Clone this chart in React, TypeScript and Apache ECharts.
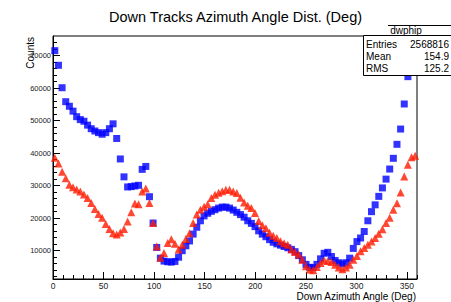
import React, { useEffect, useRef } from "react";
import * as echarts from "echarts";

const TITLE = "Down Tracks Azimuth Angle Dist. (Deg)";
const X_TITLE = "Down Azimuth Angle (Deg)";
const Y_TITLE = "Counts";
const STATS_NAME = "dwphip";
const STATS_LABELS = ["Entries", "Mean", "RMS"];
const STATS_VALUES = ["2568816", "154.9", "125.2"];

const X_MIN = 0;
const X_MAX = 360;
const BIN_WIDTH = 3.6;
const Y_MIN = 1300;
const Y_MAX = 76000;

const X_MAJOR = [0, 50, 100, 150, 200, 250, 300, 350];
const X_MINOR = [10, 20, 30, 40, 60, 70, 80, 90, 110, 120, 130, 140, 160, 170, 180, 190, 210, 220, 230, 240, 260, 270, 280, 290, 310, 320, 330, 340, 360];
const Y_MAJOR = [10000, 20000, 30000, 40000, 50000, 60000, 70000];
const Y_MINOR = [2000, 4000, 6000, 8000, 12000, 14000, 16000, 18000, 22000, 24000, 26000, 28000, 32000, 34000, 36000, 38000, 42000, 44000, 46000, 48000, 52000, 54000, 56000, 58000, 62000, 64000, 66000, 68000, 72000, 74000];

const BLUE = [
  71500, 67000, 60100, 55800, 54400, 52900, 51200, 50300, 49800, 48600,
  47500, 46800, 46300, 45800, 46300, 47500, 49000, 44500, 38200, 32700,
  29600, 29700, 29900, 30100, 35000, 35900, 26600, 18500, 11000, 7700,
  6800, 6600, 6500, 6700, 8000, 10000, 11500, 13000, 15100, 17200,
  19200, 20700, 21500, 22100, 22600, 23100, 23400, 23400, 23100, 22500,
  21800, 21100, 20300, 19200, 18400, 17400, 16100, 15100, 14300, 13400,
  12600, 12100, 11700, 11300, 10900, 10400, 9700, 8500, 7200, 5800,
  4900, 4800, 5800, 7500, 9200, 9500, 8200, 7000, 6300, 5900,
  6300, 7700, 10700, 12800, 13900, 15900, 19200, 22000, 24100, 26700,
  29300, 32000, 35100, 38400, 42700, 47400, 55100, 63500, 69000, 73000,
];

const RED = [
  38600, 36800, 34300, 32300, 30300, 29500, 28800, 28200, 27300, 26200,
  24700, 22800, 21300, 20100, 18200, 16700, 15400, 15000, 15600, 16700,
  19000, 21800, 24500, 24300, 28200, 29100, 24700, 18500, 11300, 7800,
  9300, 12400, 13500, 12100, 10400, 11800, 13600, 15400, 18500, 21100,
  22600, 23500, 24300, 26200, 27200, 27800, 28300, 28700, 28700, 28200,
  27700, 26300, 24800, 23800, 23100, 21600, 19100, 17800, 16900, 15500,
  14600, 13900, 12900, 12300, 11800, 10400, 9600, 8800, 7200, 5200,
  4200, 4000, 5000, 6200, 7000, 6800, 6500, 5700, 4800, 4300,
  4800, 5700, 7200, 8400, 9800, 10800, 11800, 12800, 13900, 15200,
  16600, 18500, 20100, 22600, 24600, 27900, 32800, 36400, 38700, 39200,
];

const FONT = "'Liberation Sans', Arial, Helvetica, sans-serif";

function toPoints(vals: number[]) {
  return vals.map((v, i) => [X_MIN + BIN_WIDTH * (i + 0.5), v]);
}

export default function App() {
  const ref = useRef<HTMLDivElement>(null);
  useEffect(() => {
    if (!ref.current) return;
    const chart = echarts.init(ref.current, undefined, { renderer: "svg" });
    const gridLeft = 53;
    const gridTop = 36;
    const gridW = 364;
    const gridH = 243;
    const boxL = 363;
    const boxT = 35;
    const boxB = 75;
    const plain = (v: number) => String(Math.round(v));
    chart.setOption({
      animation: false,
      backgroundColor: "#fff",
      grid: {
        left: gridLeft,
        top: gridTop,
        width: gridW,
        height: gridH,
        show: true,
        borderColor: "#000",
        borderWidth: 1,
        backgroundColor: "transparent",
      },
      xAxis: [
        {
          type: "value",
          min: X_MIN,
          max: X_MAX,
          axisLine: { show: true, onZero: false, lineStyle: { color: "#000", width: 1 } },
          splitLine: { show: false },
          axisTick: { show: true, inside: true, length: 7, customValues: X_MAJOR, lineStyle: { color: "#000" } },
          axisLabel: { show: true, customValues: X_MAJOR, formatter: plain, fontSize: 8.5, color: "#222", margin: 2, fontFamily: FONT },
        },
        {
          type: "value",
          min: X_MIN,
          max: X_MAX,
          position: "bottom",
          axisLine: { show: false },
          splitLine: { show: false },
          axisTick: { show: true, inside: true, length: 4, customValues: X_MINOR, lineStyle: { color: "#000" } },
          axisLabel: { show: false },
        },
      ],
      yAxis: [
        {
          type: "value",
          min: Y_MIN,
          max: Y_MAX,
          axisLine: { show: true, onZero: false, lineStyle: { color: "#000", width: 1 } },
          splitLine: { show: false },
          axisTick: { show: true, inside: true, length: 7, customValues: Y_MAJOR, lineStyle: { color: "#000" } },
          axisLabel: { show: true, customValues: Y_MAJOR, formatter: plain, fontSize: 7.5, color: "#222", margin: 2, fontFamily: FONT },
        },
        {
          type: "value",
          min: Y_MIN,
          max: Y_MAX,
          position: "left",
          axisLine: { show: false },
          splitLine: { show: false },
          axisTick: { show: true, inside: true, length: 4, customValues: Y_MINOR, lineStyle: { color: "#000" } },
          axisLabel: { show: false },
        },
      ],
      series: [
        {
          type: "scatter",
          name: "blue",
          data: toPoints(BLUE),
          symbol: "rect",
          symbolSize: 7,
          itemStyle: { color: "#0000ff" },
          clip: true,
          z: 2,
        },
        {
          type: "scatter",
          name: "red",
          data: toPoints(RED),
          symbol: "triangle",
          symbolSize: 8,
          itemStyle: { color: "#ff1a00" },
          clip: true,
          z: 3,
        },
      ],
      graphic: [
        {
          type: "text",
          x: 235.5,
          y: 17,
          z: 100,
          style: { text: TITLE, fontSize: 14.5, fontFamily: FONT, fill: "#000", textAlign: "center", textVerticalAlign: "middle" },
        },
        {
          type: "text",
          x: 416,
          y: 296,
          z: 100,
          style: { text: X_TITLE, fontSize: 10, fontFamily: FONT, fill: "#000", textAlign: "right", textVerticalAlign: "middle" },
        },
        {
          type: "text",
          x: 30,
          y: 37,
          rotation: Math.PI / 2,
          z: 100,
          style: { text: Y_TITLE, fontSize: 10, fontFamily: FONT, fill: "#000", textAlign: "right", textVerticalAlign: "middle" },
        },
        {
          type: "line",
          z: 100,
          shape: { x1: 388, y1: 25.5, x2: 451, y2: 25.5 },
          style: { stroke: "#000", lineWidth: 1 },
        },
        {
          type: "text",
          x: 406,
          y: 30.5,
          z: 100,
          style: { text: STATS_NAME, fontSize: 10, fontFamily: FONT, fill: "#000", textAlign: "center", textVerticalAlign: "middle" },
        },
        {
          type: "rect",
          z: 100,
          shape: { x: boxL + 0.5, y: boxT + 0.5, width: 451 - boxL + 2, height: boxB - boxT },
          style: { fill: "#fff", stroke: "#000", lineWidth: 1 },
        },
        ...STATS_LABELS.map((lab, i) => ({
          type: "text",
          x: 366,
          y: 44 + i * 12,
          z: 101,
          style: { text: lab, fontSize: 10, fontFamily: FONT, fill: "#000", textAlign: "left", textVerticalAlign: "middle" },
        })),
        ...STATS_VALUES.map((val, i) => ({
          type: "text",
          x: 449,
          y: 44 + i * 12,
          z: 101,
          style: { text: val, fontSize: 10, fontFamily: FONT, fill: "#000", textAlign: "right", textVerticalAlign: "middle" },
        })),
      ],
    });
    return () => chart.dispose();
  }, []);
  return (
    <div
      ref={ref}
      style={{ position: "absolute", left: 0, top: 0, width: 451, height: 302, background: "#fff" }}
    />
  );
}
